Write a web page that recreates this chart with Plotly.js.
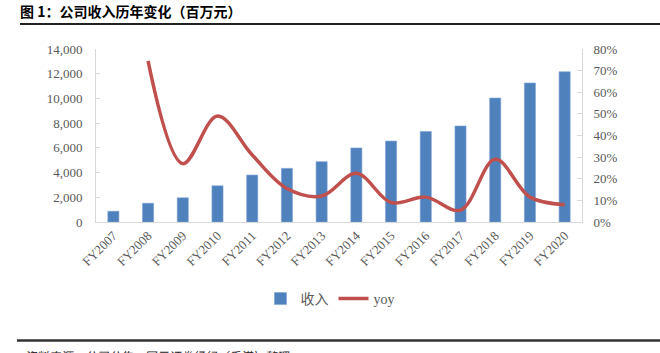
<!DOCTYPE html>
<html>
<head>
<meta charset="utf-8">
<script src="https://cdn.plot.ly/plotly-3.0.1.min.js"></script>
<style>html,body{margin:0;padding:0;background:#fff}#chart{width:660px;height:353px}</style>
</head>
<body>
<div id="chart"></div>
<script>
const categories = ["FY2007","FY2008","FY2009","FY2010","FY2011","FY2012","FY2013","FY2014","FY2015","FY2016","FY2017","FY2018","FY2019","FY2020"];
const revenue = [870, 1520, 1960, 2930, 3800, 4340, 4880, 5990, 6550, 7330, 7770, 10030, 11250, 12160];
const yoy = [null, 0.745, 0.27, 0.49, 0.31, 0.155, 0.12, 0.225, 0.09, 0.115, 0.055, 0.29, 0.115, 0.08];
const leftTicks = [0, 2000, 4000, 6000, 8000, 10000, 12000, 14000];
const rightTicks = [0, 0.1, 0.2, 0.3, 0.4, 0.5, 0.6, 0.7, 0.8];

const W = 660, H = 353;
const L = 96, R = 582, T = 49, B = 222;
const px = x => (x - L) / (R - L);
const py = y => (B - y) / (B - T);

const tickFont = {family: "Liberation Serif, Times New Roman, serif", size: 13, color: "#595959"};

const traces = [
  {type: "bar", x: categories, y: revenue, name: "收入", marker: {color: "#4F81BD", line: {color: "#7FA3D3", width: 0.6}}, width: 0.32, yaxis: "y"},
  {type: "scatter", mode: "lines", x: categories, y: yoy, name: "yoy", line: {color: "#C0504D", width: 3.5, shape: "spline", smoothing: 1.0}, yaxis: "y2", connectgaps: false}
];

const layout = {
  width: W, height: H,
  margin: {l: L, r: W - R, t: T, b: H - B},
  paper_bgcolor: "#fff", plot_bgcolor: "#fff",
  showlegend: true,
  title: {text: "<b>图 1：公司收入历年变化（百万元）</b>", x: 20 / W, xanchor: "left", xref: "container", y: 1 - 12 / H, yanchor: "middle", yref: "container",
    font: {family: "Noto Sans CJK SC, sans-serif", size: 14, color: "#000"}},
  xaxis: {type: "category", tickangle: -45, tickfont: {family: "Liberation Serif, Times New Roman, serif", size: 13, color: "#595959"},
    showline: true, linecolor: "#D9D9D9", linewidth: 1, ticks: "", showgrid: false, zeroline: false, fixedrange: true},
  yaxis: {range: [0, 14000], tickvals: leftTicks, ticktext: leftTicks.map(v => v.toLocaleString("en-US")), tickfont: tickFont,
    showline: true, linecolor: "#D9D9D9", linewidth: 1, ticks: "inside", ticklen: 4, tickcolor: "#D9D9D9",
    showgrid: false, zeroline: false, ticklabelstandoff: 10, fixedrange: true},
  yaxis2: {range: [0, 0.8], overlaying: "y", side: "right", tickvals: rightTicks, ticktext: rightTicks.map(v => Math.round(v * 100) + "%"), tickfont: tickFont,
    showline: true, linecolor: "#D9D9D9", linewidth: 1, ticks: "inside", ticklen: 5, tickcolor: "#D9D9D9",
    showgrid: false, zeroline: false, ticklabelstandoff: 8, fixedrange: true},
  legend: {orientation: "h", x: px(330), xanchor: "center", y: py(299), yanchor: "middle", xref: "paper", yref: "paper",
    font: {family: "Liberation Serif, Noto Sans CJK SC, serif", size: 14, color: "#595959"}, itemwidth: 30, tracegroupgap: 0, bgcolor: "rgba(0,0,0,0)"},
  shapes: [
    {type: "line", xref: "paper", yref: "paper", x0: px(20), x1: px(660), y0: py(24), y1: py(24), line: {color: "#222", width: 2}},
    {type: "line", xref: "paper", yref: "paper", x0: px(17), x1: px(660), y0: py(340.5), y1: py(340.5), line: {color: "#333", width: 2.5}}
  ],
  annotations: [
    {xref: "paper", yref: "paper", x: px(22), y: py(345), xanchor: "left", yanchor: "top", showarrow: false,
      text: "<i>资料来源：公司公告，国元证券经纪（香港）整理</i>", font: {family: "Noto Sans CJK SC, sans-serif", size: 12, color: "#222"}}
  ]
};

Plotly.newPlot("chart", traces, layout, {displayModeBar: false, staticPlot: true});
</script>
</body>
</html>
